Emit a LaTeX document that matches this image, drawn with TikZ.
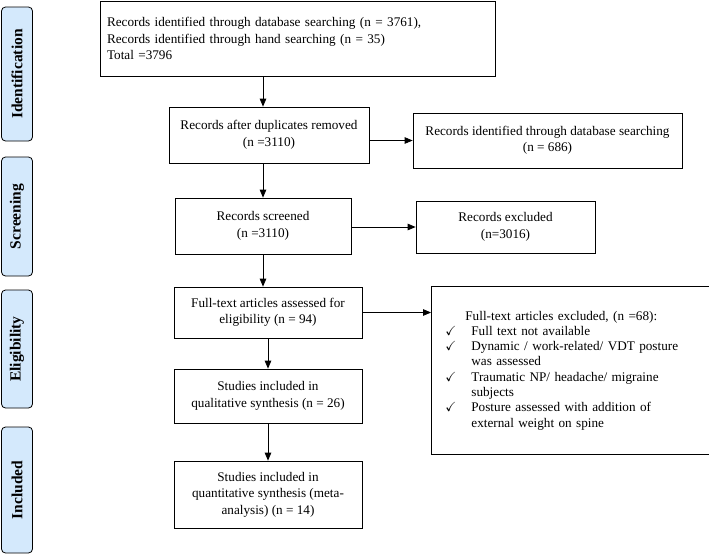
\documentclass[tikz,border=0pt]{standalone}
\usepackage{fontspec}
\usepackage{amssymb}
\setmainfont{Liberation Serif}
\usetikzlibrary{arrows,positioning}
\definecolor{pBlue}{RGB}{212,233,252}
\tikzset{
    box/.style={rectangle, draw, thick, align=center, inner sep=4pt, font=\fontsize{13.2}{16.5}\selectfont},
    side/.style={rectangle, draw, thick, rounded corners=4pt, fill=pBlue, rotate=90, minimum height=31pt, inner sep=1pt, font=\fontsize{15.5}{17}\selectfont\bfseries},
    arr/.style={thick, -triangle 45}
}
\newcommand{\tick}{\makebox[26pt][l]{$\checkmark$}}
\newcommand{\indt}{\hspace*{26pt}}

\begin{document}
\begin{tikzpicture}[x=1pt,y=-1pt]
\useasboundingbox (0,0) rectangle (709,555);
% side labels
\node[side, minimum width=134pt] (sIdent) at (17, 74) {Identification};
\node[side, minimum width=119pt] (sScreen) at (17,216.5) {Screening};
\node[side, minimum width=118pt] (sElig) at (17, 349) {Eligibility};
\node[side, minimum width=126pt] (sIncl) at (17, 490) {Included};
% main column
\node[box, minimum width=395pt, minimum height=75pt, text width=381pt, align=left] (ident) at (297.5, 38.5)
  {Records identified through database searching (n = 3761),\\
   Records identified through hand searching (n = 35)\\
   Total =3796};
\node[box, minimum width=200pt, minimum height=56pt] (dup) at (269, 135) {Records after duplicates removed\\(n =3110)};
\node[box, minimum width=269pt, minimum height=55pt] (dbrec) at (547.5,140.5) {Records identified through database searching\\(n = 686)};
\node[box, minimum width=176pt, minimum height=56pt] (scr) at (263, 226) {Records screened\\(n =3110)};
\node[box, minimum width=179pt, minimum height=52pt] (excl) at (505.5,227) {Records excluded\\(n=3016)};
\node[box, minimum width=188pt, minimum height=51pt] (ft) at (268,312.5) {Full-text articles assessed for\\eligibility (n = 94)};
\node[box, minimum width=188pt, minimum height=54pt] (qual) at (268, 396) {Studies included in\\qualitative synthesis (n = 26)};
\node[box, minimum width=188pt, minimum height=67pt] (quant) at (268,494.5) {Studies included in\\quantitative synthesis (meta-\\analysis) (n = 14)};
\node[box, minimum width=268pt, minimum height=168pt, text width=250pt, inner xsep=14pt, align=left,
      font=\fontsize{13.2}{15.3}\selectfont, anchor=north west] (ftex) at (431,286)
  {\hspace*{20pt}Full-text articles excluded, (n =68):\\
   \tick Full text not available\\
   \tick Dynamic / work-related/ VDT posture\\
   \indt was assessed\\
   \tick Traumatic NP/ headache/ migraine\\
   \indt subjects\\
   \tick Posture assessed with addition of\\
   \indt external weight on spine\\[12pt]};
% connectors
\draw[arr] (scr.north |- ident.south) -- (scr.north |- dup.north);
\draw[arr] (dup.east |- dbrec.west) -- (dbrec.west);
\draw[arr] (scr.north |- dup.south) -- (scr.north);
\draw[arr] (scr.east |- excl.west) -- (excl.west);
\draw[arr] (scr.south) -- (scr.south |- ft.north);
\draw[arr] (ft.east) -- (ft.east -| ftex.west);
\draw[arr] (ft.south) -- (qual.north);
\draw[arr] (qual.south) -- (quant.north);
\end{tikzpicture}
\end{document}
